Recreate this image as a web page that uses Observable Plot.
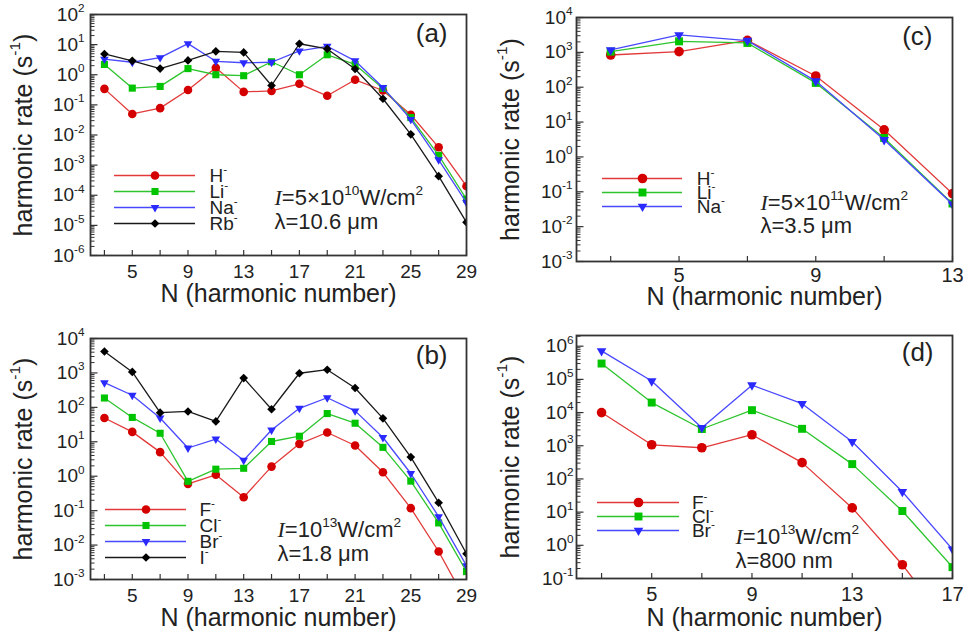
<!DOCTYPE html>
<html><head><meta charset="utf-8">
<script src="https://cdn.jsdelivr.net/npm/d3@7"></script>
<script src="https://cdn.jsdelivr.net/npm/@observablehq/plot@0.6"></script>
<style>
html,body{margin:0;padding:0;background:#fff;}
#root{position:relative;width:963px;height:637px;overflow:hidden;background:#fff;}
#root svg{position:absolute;}
</style></head><body><div id="root"></div>
<script>
// ---------------- DATA ----------------
const harmonicsAB = [3,5,7,9,11,13,15,17,19,21,23,25,27,29];
const harmonicsC = [3,5,7,9,11,13];
const harmonicsD = [3,5,7,9,11,13,15,17];

const xTicksAB = [3,5,7,9,11,13,15,17,19,21,23,25,27,29];
const xTicksC = [3,5,7,9,11,13];
const xTicksD = [3,5,7,9,11,13,15,17];
const xLabelsAB = [5,9,13,17,21,25,29];
const xLabelsC = [5,9,13];
const xLabelsD = [5,9,13,17];

// panel (a): I=5e10 W/cm2, lambda=10.6 um
const rateA_H  = [0.34, 0.05, 0.078, 0.31, 1.7, 0.27, 0.29, 0.5, 0.2, 0.68, 0.3, 0.047, 0.0039, 2.0e-4];
const rateA_Li = [2.2, 0.36, 0.41, 1.6, 1.0, 0.93, 2.7, 1.0, 4.6, 2.2, 0.35, 0.038, 0.0021, 7.4e-5];
const rateA_Na = [3.3, 2.6, 3.7, 10.8, 2.8, 2.5, 2.6, 6.2, 8.8, 2.9, 0.38, 0.033, 0.0015, 5.7e-5];
const rateA_Rb = [4.9, 2.9, 1.6, 3.0, 6.0, 5.5, 0.44, 10.7, 7.2, 1.55, 0.16, 0.0105, 4.3e-4, 1.26e-5];

// panel (b): I=1e13 W/cm2, lambda=1.8 um
const rateB_F  = [49, 19.4, 5.0, 0.6, 1.1, 0.245, 1.9, 8.7, 18.6, 7.8, 1.3, 0.118, 0.0065, 2.2e-4];
const rateB_Cl = [187, 51, 17.7, 0.71, 1.6, 1.7, 10.2, 14.5, 66, 34.6, 6.9, 0.72, 0.044, 0.0017];
const rateB_Br = [520, 225, 49, 6.6, 12, 2.9, 22, 94, 190, 79, 13.3, 1.2, 0.067, 0.0025];
const rateB_I  = [4200, 1070, 70, 76, 39, 710, 88, 980, 1240, 365, 48, 3.6, 0.17, 0.0056];

// panel (c): I=5e11 W/cm2, lambda=3.5 um
const rateC_H  = [840, 1050, 2200, 210, 6.0, 0.089];
const rateC_Li = [1050, 2070, 1860, 133, 3.5, 0.046];
const rateC_Na = [1170, 3160, 2170, 150, 3.1, 0.044];

// panel (d): I=1e13 W/cm2, lambda=800 nm
const rateD_F  = [10000, 1070, 870, 2150, 310, 13.4, 0.26, 0.0028];
const rateD_Cl = [3.0e5, 2.0e4, 3200, 1.18e4, 3240, 280, 10.8, 0.22];
const rateD_Br = [7.2e5, 8.9e4, 3500, 6.7e4, 1.85e4, 1320, 41, 0.76];

const namesAlkali = ["H^{-}", "Li^{-}", "Na^{-}", "Rb^{-}"];
const namesHalogen = ["F^{-}", "Cl^{-}", "Br^{-}", "I^{-}"];

const xAxisLabel = "N (harmonic number)";
const yAxisLabel = "harmonic rate (s^{-1})";

const notesA = ["*I*=5×10^{10}W/cm^{2}", "λ=10.6 μm"];
const notesB = ["*I*=10^{13}W/cm^{2}", "λ=1.8 μm"];
const notesC = ["*I*=5×10^{11}W/cm^{2}", "λ=3.5 μm"];
const notesD = ["*I*=10^{13}W/cm^{2}", "λ=800 nm"];

// ---------------- STYLE ----------------
const FONT = '"Liberation Sans", Arial, Helvetica, sans-serif';
const NS = "http://www.w3.org/2000/svg";
const seriesStyles = [
  {stroke: "#e23a3a", fill: "#d40000", symbol: "circle",   r: 4.3, rotate: 0},
  {stroke: "#2ec42e", fill: "#00c400", symbol: "square",   r: 4.0, rotate: 0},
  {stroke: "#4848ff", fill: "#2a2aff", symbol: "triangle", r: 3.2, rotate: 180},
  {stroke: "#1a1a1a", fill: "#000000", symbol: "diamond2", r: 3.9, rotate: 0}
];

function richify(svg) {
  svg.querySelectorAll("text").forEach(t => {
    const lines = t.querySelectorAll(":scope > tspan");
    const targets = lines.length ? Array.from(lines) : [t];
    const fs = parseFloat(getComputedStyle(t).fontSize) || 16;
    const shift = 0.45 * fs;
    targets.forEach(el => {
      const s = el.textContent;
      if (!/\^\{|\*/.test(s)) return;
      while (el.firstChild) el.removeChild(el.firstChild);
      const re = /\^\{([^}]*)\}|\*([^*]+)\*|([^*^]+)/g;
      let m, cur = 0;
      while ((m = re.exec(s))) {
        const ts = document.createElementNS(NS, "tspan");
        let target = 0;
        if (m[1] !== undefined) {
          ts.textContent = m[1];
          ts.setAttribute("font-size", (0.62 * fs).toFixed(2));
          target = -shift;
        } else if (m[2] !== undefined) {
          ts.textContent = m[2];
          ts.setAttribute("font-family", '"Liberation Serif", "Times New Roman", serif');
          ts.setAttribute("font-style", "italic");
        } else {
          ts.textContent = m[3];
        }
        const d = target - cur;
        if (d) ts.setAttribute("dy", d.toFixed(2));
        cur = target;
        el.appendChild(ts);
      }
    });
  });
}

const root = document.getElementById("root");

function place(svg, left, top) {
  svg.style.left = left + "px";
  svg.style.top = top + "px";
  root.appendChild(svg);
  richify(svg);
}

function panel(cfg) {
  const fw = cfg.width - cfg.ml - cfg.mr, fh = cfg.height - cfg.mt - cfg.mb;
  const [y0, y1] = cfg.yDomain;
  const kMin = Math.ceil(Math.log10(y0) - 1e-9), kMax = Math.floor(Math.log10(y1) + 1e-9);
  const decades = d3.range(kMin, kMax + 1).map(k => +("1e" + k));
  const minors = [];
  for (let k = kMin - 1; k <= kMax; k++) for (let m = 2; m <= 9; m++) {
    const v = m * +("1e" + k);
    if (v > y0 * 1.0001 && v < y1 * 0.9999) minors.push(v);
  }
  const marks = [
    Plot.tickY(minors, {y: d => d, insetRight: fw - 4.5, stroke: "#333", strokeWidth: 1}),
    Plot.tickY(decades, {y: d => d, insetRight: fw - 7.5, stroke: "#333", strokeWidth: 1.2}),
    Plot.tickX(cfg.xTicks, {x: d => d, insetTop: fh - 5, stroke: "#333", strokeWidth: 1.2})
  ];
  cfg.series.forEach((vals, i) => {
    const st = seriesStyles[i];
    const rows = cfg.N.map((n, j) => ({N: n, v: vals[j]}));
    marks.push(Plot.line(rows, {x: "N", y: "v", stroke: st.stroke, strokeWidth: 1.3, clip: true}));
    marks.push(Plot.dot(rows, {x: "N", y: "v", symbol: st.symbol, r: st.r * cfg.ms, rotate: st.rotate, fill: st.fill, stroke: "none", clip: true}));
  });
  marks.push(Plot.frame({stroke: "#333", strokeWidth: 1.8}));
  marks.push(Plot.text(decades, {y: d => d, frameAnchor: "left", text: d => `10^{${Math.round(Math.log10(d))}}`,
    textAnchor: "end", lineAnchor: "middle", dx: -cfg.ytpad, fontSize: 19, fill: "#222"}));
  marks.push(Plot.text(cfg.xLabels, {x: d => d, frameAnchor: "bottom", text: d => String(d),
    textAnchor: "middle", lineAnchor: "bottom", dy: cfg.xtdy, fontSize: cfg.tfs, fill: "#222"}));
  marks.push(Plot.text([yAxisLabel], {frameAnchor: "left", rotate: -90, textAnchor: "middle", lineAnchor: "middle",
    dx: cfg.yldx, fontSize: 25, fill: "#222"}));
  marks.push(Plot.text([xAxisLabel], {frameAnchor: "bottom", textAnchor: "middle", lineAnchor: "bottom",
    dy: cfg.xldy, fontSize: 25, fill: "#222"}));
  marks.push(Plot.text([cfg.tag], {frameAnchor: "top-right", textAnchor: "end", lineAnchor: "top",
    dx: cfg.tagDx, dy: cfg.tagDy, fontSize: 26, fill: "#222"}));
  cfg.notes.forEach((s, i) => {
    marks.push(Plot.text([s], {frameAnchor: "top-left", textAnchor: "start", lineAnchor: "bottom",
      dx: cfg.noteDx, dy: cfg.noteDy[i], fontSize: 22, fill: "#222"}));
  });
  const svg = Plot.plot({
    width: cfg.width, height: cfg.height,
    marginLeft: cfg.ml, marginRight: cfg.mr, marginTop: cfg.mt, marginBottom: cfg.mb,
    x: {domain: cfg.xDomain, axis: null},
    y: {type: "log", domain: cfg.yDomain, axis: null},
    style: {fontFamily: FONT, background: "transparent", maxWidth: "none", overflow: "visible"},
    marks
  });
  place(svg, cfg.left, cfg.top);

  // legend (own small plot, overlaid)
  const L = cfg.legend, n = cfg.names.length;
  const lw = L.len + 20 + 70, lh = (n - 1) * L.step + 24;
  const leg = Plot.plot({
    width: lw, height: lh, margin: 0,
    x: {domain: [0, 1], range: [10, 10 + L.len], axis: null},
    y: {type: "point", domain: cfg.names, range: [12, 12 + (n - 1) * L.step], axis: null},
    style: {fontFamily: FONT, background: "transparent", maxWidth: "none", overflow: "visible"},
    marks: cfg.names.flatMap((name, i) => {
      const st = seriesStyles[i];
      return [
        Plot.ruleY([name], {y: d => d, x1: 0, x2: 1, stroke: st.stroke, strokeWidth: 1.3}),
        Plot.dot([name], {x: 0.5, y: d => d, symbol: st.symbol, r: st.r * cfg.ms, rotate: st.rotate, fill: st.fill, stroke: "none"}),
        Plot.text([name], {x: 1, y: d => d, text: d => d, textAnchor: "start", lineAnchor: "middle", dx: L.labelDx, fontSize: 19, fill: "#222"})
      ];
    })
  });
  place(leg, L.x0 - 10, L.y0 - 12);
}

panel({
  left: 0, top: 0, width: 480, height: 310, ml: 90, mr: 14, mt: 14, mb: 55,
  xDomain: [2, 29], yDomain: [1e-6, 1e2], N: harmonicsAB, xTicks: xTicksAB, xLabels: xLabelsAB,
  series: [rateA_H, rateA_Li, rateA_Na, rateA_Rb], names: namesAlkali, ms: 1,
  ytpad: 6, xtdy: 22.3, tfs: 19, yldx: -67, xldy: 46.5, tag: "(a)", tagDx: -19, tagDy: 9,
  notes: notesA, noteDx: 184, noteDy: [190, 214.7],
  legend: {x0: 114, y0: 166, step: 21.7, len: 81, labelDx: 14}
});
panel({
  left: 480, top: 0, width: 483, height: 310, ml: 96, mr: 11, mt: 17, mb: 49,
  xDomain: [2, 13], yDomain: [1e-3, 1e4], N: harmonicsC, xTicks: xTicksC, xLabels: xLabelsC,
  series: [rateC_H, rateC_Li, rateC_Na], names: namesAlkali.slice(0, 3), ms: 1.12,
  ytpad: 4, xtdy: 20.7, tfs: 20, yldx: -66, xldy: 43, tag: "(c)", tagDx: -20, tagDy: 9,
  notes: notesC, noteDx: 184, noteDy: [192.3, 215],
  legend: {x0: 601.7, y0: 170, step: 21.7, len: 80, labelDx: 14.3}
});
panel({
  left: 0, top: 310, width: 480, height: 327, ml: 90, mr: 14, mt: 28, mb: 58,
  xDomain: [2, 29], yDomain: [1e-3, 1e4], N: harmonicsAB, xTicks: xTicksAB, xLabels: xLabelsAB,
  series: [rateB_F, rateB_Cl, rateB_Br, rateB_I], names: namesHalogen, ms: 1,
  ytpad: 6, xtdy: 22.7, tfs: 19, yldx: -67, xldy: 46, tag: "(b)", tagDx: -19, tagDy: 7,
  notes: notesB, noteDx: 187, noteDy: [198, 222],
  legend: {x0: 105, y0: 500, step: 21.8, len: 81, labelDx: 13}
});
panel({
  left: 480, top: 310, width: 483, height: 327, ml: 96, mr: 11, mt: 25, mb: 59,
  xDomain: [2, 17], yDomain: [0.1, 2.1e6], N: harmonicsD, xTicks: xTicksD, xLabels: xLabelsD,
  series: [rateD_F, rateD_Cl, rateD_Br], names: namesHalogen.slice(0, 3), ms: 1.12,
  ytpad: 3, xtdy: 22, tfs: 20, yldx: -66, xldy: 47, tag: "(d)", tagDx: -19, tagDy: 7,
  notes: notesD, noteDx: 159, noteDy: [208, 232],
  legend: {x0: 597.3, y0: 494.3, step: 22, len: 82, labelDx: 12.4}
});
</script>
</body></html>
